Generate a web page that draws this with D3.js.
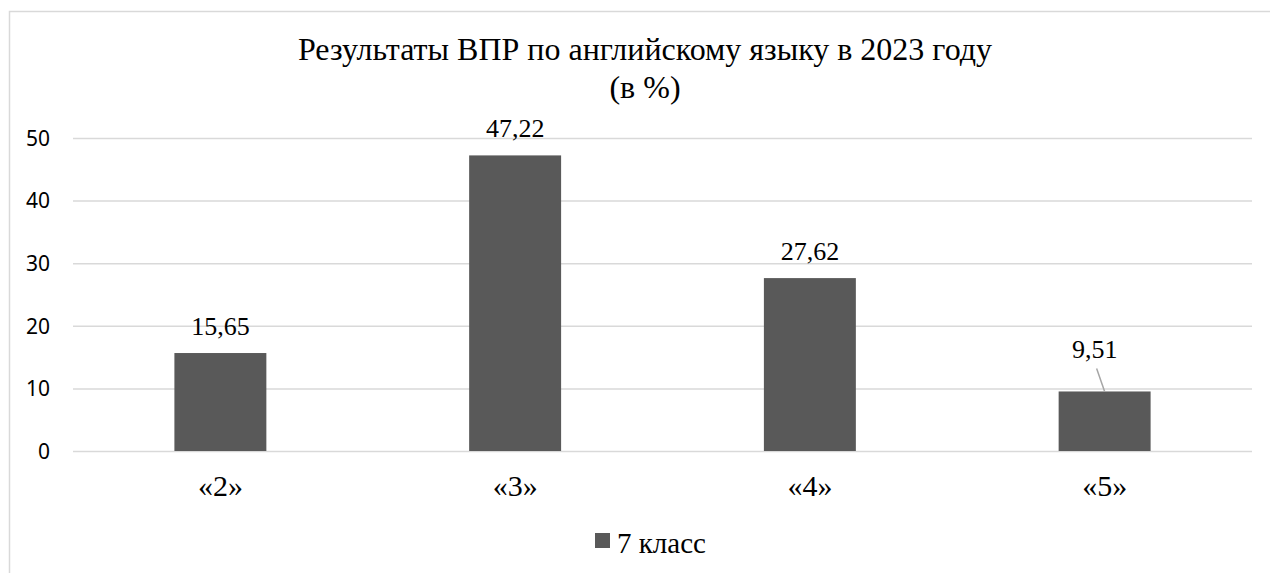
<!doctype html>
<html>
<head>
    <meta charset="utf-8">
    <script src="https://cdnjs.cloudflare.com/ajax/libs/d3/7.8.5/d3.min.js"></script>
    <style>
        body { margin: 0; background: #fff; }
        .tick text { font: 21px "Noto Sans", sans-serif; fill: #000; }
        .serif { font-family: "Liberation Serif", "Times New Roman", serif; fill: #000; }
    </style>
</head>
<body>
<script>
    // data
    var categories = ["«2»", "«3»", "«4»", "«5»"];
    var values = [15.65, 47.22, 27.62, 9.51];
    var valueLabels = ["15,65", "47,22", "27,62", "9,51"];
    var yTicks = [0, 10, 20, 30, 40, 50];
    var seriesName = "7 класс";
    var titleLines = ["Результаты ВПР по английскому языку в 2023 году", "(в %)"];

    var width = 1270, height = 573;
    var margin = {top: 138, right: 18, bottom: 122, left: 73};

    var svg = d3.select("body").append("svg")
        .attr("width", width)
        .attr("height", height);

    // chart frame
    svg.append("rect")
        .attr("x", 9.5).attr("y", 11.5)
        .attr("width", width + 10).attr("height", height + 10)
        .style("fill", "#fff")
        .style("stroke", "#d9d9d9")
        .style("stroke-width", 1.5);

    var x = d3.scaleBand()
        .domain(categories)
        .range([margin.left, width - margin.right])
        .paddingInner(0.688)
        .paddingOuter(0.344);

    var y = d3.scaleLinear()
        .domain([0, 50])
        .range([height - margin.bottom, margin.top]);

    // gridlines + tick labels
    var yAxis = d3.axisLeft(y)
        .tickValues(yTicks)
        .tickSize(-(width - margin.left - margin.right))
        .tickPadding(23);

    var gy = svg.append("g")
        .attr("transform", "translate(" + margin.left + ",0)")
        .call(yAxis);
    gy.select(".domain").remove();
    gy.selectAll(".tick line").style("stroke", "#d9d9d9").style("stroke-width", 1.5);
    gy.selectAll(".tick text").attr("dy", "0.35em");

    // bars
    svg.selectAll("rect.bar")
        .data(values)
        .enter().append("rect")
        .attr("class", "bar")
        .attr("x", function(d, i) { return x(categories[i]); })
        .attr("width", x.bandwidth())
        .attr("y", function(d) { return y(d); })
        .attr("height", function(d) { return y(0) - y(d); })
        .style("fill", "#595959");

    // value labels (the last one sits off the bar with a leader line)
    var shifted = {"«5»": [-10, -15]};
    svg.selectAll("text.val")
        .data(values)
        .enter().append("text")
        .attr("class", "val serif")
        .attr("text-anchor", "middle")
        .style("font-size", "26px")
        .attr("x", function(d, i) {
            var s = shifted[categories[i]];
            return x(categories[i]) + x.bandwidth() / 2 + (s ? s[0] : 0);
        })
        .attr("y", function(d, i) {
            var s = shifted[categories[i]];
            return y(d) - 18 + (s ? s[1] : 0);
        })
        .text(function(d, i) { return valueLabels[i]; });

    categories.forEach(function(c, i) {
        var s = shifted[c];
        if (!s) return;
        var cx = x(c) + x.bandwidth() / 2;
        svg.append("line")
            .attr("x1", cx + s[0] + 2).attr("y1", y(values[i]) - 18 + s[1] + 10)
            .attr("x2", cx).attr("y2", y(values[i]))
            .style("stroke", "#a6a6a6")
            .style("stroke-width", 1.5);
    });

    // category labels
    svg.selectAll("text.cat")
        .data(categories)
        .enter().append("text")
        .attr("class", "cat serif")
        .attr("text-anchor", "middle")
        .style("font-size", "30px")
        .attr("x", function(d) { return x(d) + x.bandwidth() / 2; })
        .attr("y", y(0) + 45)
        .text(function(d) { return d; });

    // title
    svg.selectAll("text.title")
        .data(titleLines)
        .enter().append("text")
        .attr("class", "title serif")
        .attr("text-anchor", "middle")
        .style("font-size", "32px")
        .attr("x", 645)
        .attr("y", function(d, i) { return 60 + i * 38; })
        .text(function(d) { return d; });

    // legend
    var legend = svg.append("g").attr("transform", "translate(595,533)");
    legend.append("rect")
        .attr("width", 15).attr("height", 15)
        .style("fill", "#595959");
    legend.append("text")
        .attr("class", "serif")
        .style("font-size", "29px")
        .attr("x", 22).attr("y", 20)
        .text(seriesName);
</script>
</body>
</html>
